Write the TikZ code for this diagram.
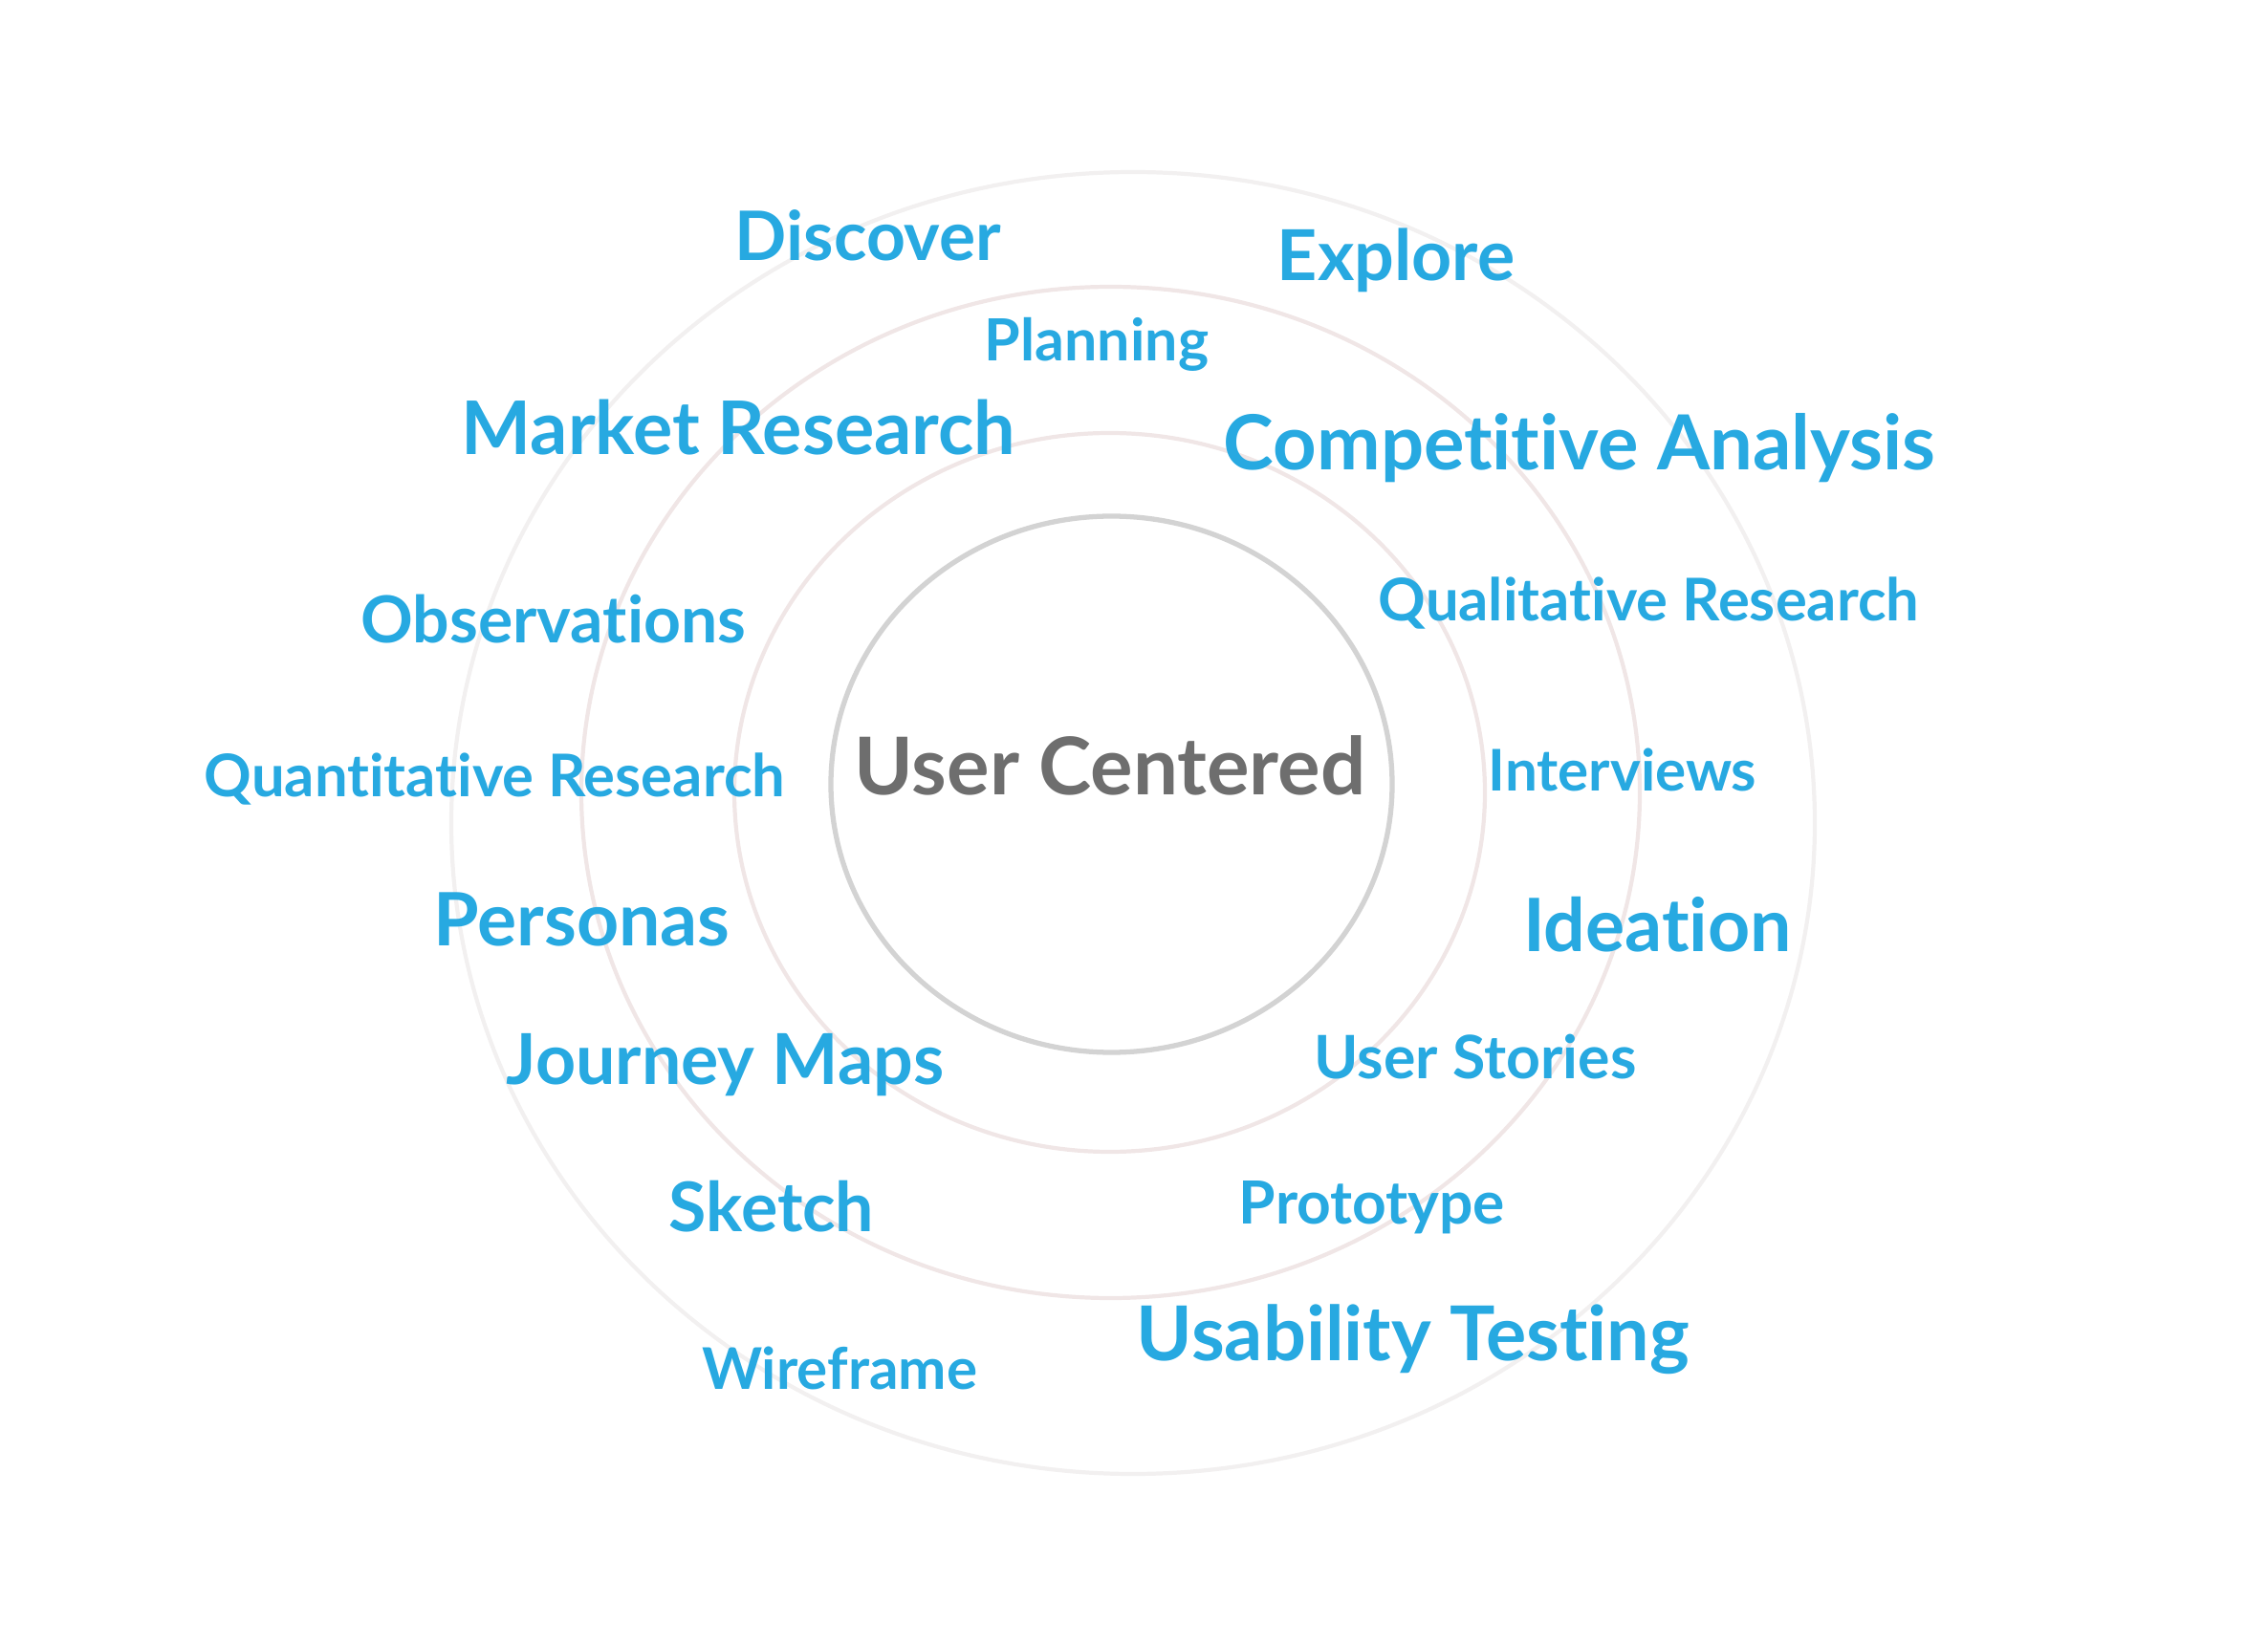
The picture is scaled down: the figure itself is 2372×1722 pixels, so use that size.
\documentclass[tikz,border=0pt]{standalone}
\usepackage{fontspec}
\setmainfont{Lato}[Ligatures=NoCommon]
\usetikzlibrary{positioning}

\definecolor{ucblue}{HTML}{27A9E1}
\definecolor{ucgray}{HTML}{6E6E6E}
\definecolor{ringgray}{HTML}{D3D3D3}
\definecolor{ringpink}{HTML}{F0E6E6}
\definecolor{ringlight}{HTML}{F2F0F0}

\begin{document}
\begin{tikzpicture}[x=0.01cm, y=-0.01cm,
    term/.style={font=\fontsize{#1}{#1}\selectfont\bfseries, text=ucblue, inner sep=0pt, anchor=base},
    ring/.style={draw=ringpink, line width=1.2pt}]
        \useasboundingbox (0,0) rectangle (2372,1722);

        % Rings
        \draw[draw=ringlight, line width=1.2pt] (1185,861) ellipse [x radius=713, y radius=681];
        \draw[ring] (1161.5,829) ellipse [x radius=553.5, y radius=529];
        \draw[ring] (1160.5,829) ellipse [x radius=392.5, y radius=376];
        \draw[draw=ringgray, line width=1.5pt] (1162.5,820.5) ellipse [x radius=293.5, y radius=280.5];

        % Centre
        \node[term=23.7, text=ucgray] (center) at (1161,832) {User Centered};

        % Terms
        \node[term=20.3] (discover) at (908,273) {Discover};
        \node[term=20.9] (explore) at (1460,294) {Explore};
        \node[term=17.3] (planning) at (1147,378) {Planning};
        \node[term=22] (market) at (772.5,476) {Market Research};
        \node[term=22.6] (competitive) at (1652,492) {Competitive Analysis};
        \node[term=17.5] (qualitative) at (1724.5,650) {Qualitative Research};
        \node[term=19.3] (observations) at (579,673) {Observations};
        \node[term=17.5] (quantitative) at (517.5,834) {Quantitative Research};
        \node[term=17.1] (interviews) at (1697,828) {Interviews};
        \node[term=21.9] (personas) at (608.5,989) {Personas};
        \node[term=21.9] (ideation) at (1733.5,995) {Ideation};
        \node[term=20.9] (journey) at (758.5,1134) {Journey Maps};
        \node[term=17.8] (stories) at (1543,1128) {User Stories};
        \node[term=20.4] (sketch) at (807,1288) {Sketch};
        \node[term=17.7] (prototype) at (1435,1280) {Prototype};
        \node[term=22.5] (usability) at (1478,1423) {Usability Testing};
        \node[term=17.1] (wireframe) at (878,1453) {Wireframe};
    \end{tikzpicture}
\end{document}
